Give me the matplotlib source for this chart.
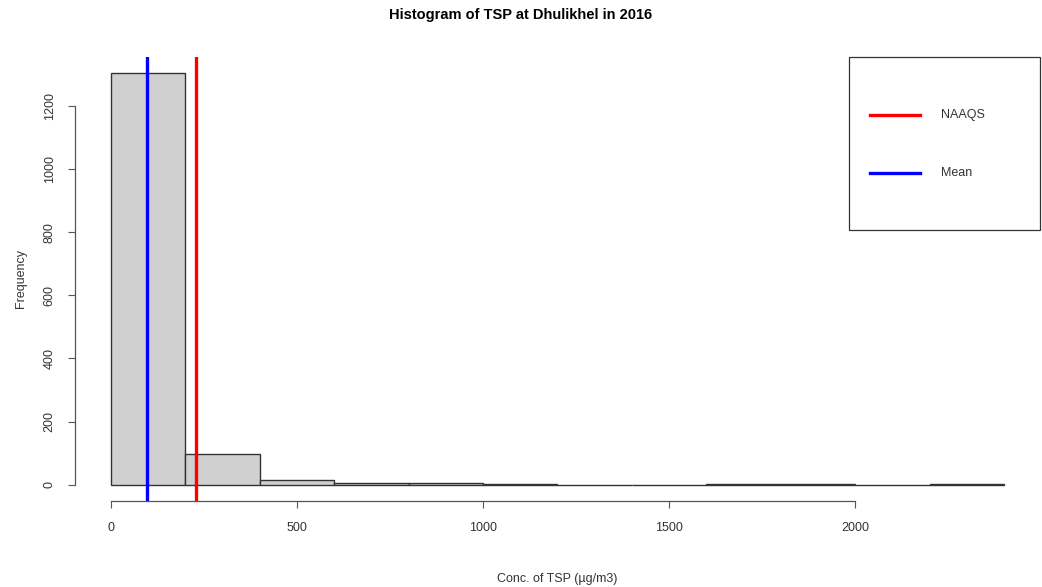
import numpy as np
import matplotlib.pyplot as plt
from matplotlib.patches import Rectangle
from matplotlib.lines import Line2D

plt.rcParams['font.family'] = ['Liberation Sans', 'DejaVu Sans']

# histogram bins (µg/m3) and counts
bin_edges = [0, 200, 400, 600, 800, 1000, 1200, 1400, 1600, 1800, 2000, 2200, 2400]
counts = [1304, 98, 16, 5, 5, 1, 0, 0, 1, 1, 0, 1]
naaqs = 230
mean_tsp = 97

xticks = [0, 500, 1000, 1500, 2000]
yticks = [0, 200, 400, 600, 800, 1000, 1200]
legend_labels = ['NAAQS', 'Mean']
legend_colors = ['#ff0000', '#0000ff']

W, H = 1042, 587
fig = plt.figure(figsize=(W / 100, H / 100), dpi=100)
ax = fig.add_axes([0.072, 0.1465, 0.926, 0.7565])

lefts = np.array(bin_edges[:-1])
widths = np.diff(bin_edges)
ax.bar(lefts, counts, width=widths, align='edge', color='#d0d0d0',
       edgecolor='#333333', linewidth=1.0)

ax.axvline(naaqs, color=legend_colors[0], lw=2.4)
ax.axvline(mean_tsp, color=legend_colors[1], lw=2.4)

ax.set_xlim(-96, 2496)
ax.set_ylim(-52, 1356)

for s in ['top', 'right']:
    ax.spines[s].set_visible(False)
ax.spines['bottom'].set_bounds(0, 2000)
ax.spines['left'].set_bounds(0, 1200)
for s in ['bottom', 'left']:
    ax.spines[s].set_color('#555555')
    ax.spines[s].set_linewidth(0.9)

ax.set_xticks(xticks)
ax.set_yticks(yticks)
ax.tick_params(axis='both', length=5, color='#555555', labelsize=9,
               labelcolor='#333333', direction='out')
ax.tick_params(axis='x', pad=10)
ax.tick_params(axis='y', pad=9)
for lbl in ax.get_yticklabels():
    lbl.set_rotation(90)
    lbl.set_va('center')

ax.set_xlabel('Conc. of TSP (µg/m3)', fontsize=9, color='#333333', labelpad=28)
ax.set_ylabel('Frequency', fontsize=9, color='#333333', labelpad=12)
fig.text(0.5, 1 - 15 / H, 'Histogram of TSP at Dhulikhel in 2016', ha='center',
         va='center', fontsize=10.5, fontweight='bold')

# legend box drawn by hand (pixel layout of the R legend)
fig.patches.append(Rectangle((849 / W, 1 - 230 / H), 191 / W, 173 / H,
                             transform=fig.transFigure, fill=False,
                             edgecolor='#333333', linewidth=0.9))
for i, (lab, col) in enumerate(zip(legend_labels, legend_colors)):
    y = 1 - (115 + 58 * i) / H
    fig.lines.append(Line2D([870 / W, 920 / W], [y, y], transform=fig.transFigure,
                            color=col, lw=2.4))
    fig.text(941 / W, y, lab, fontsize=9, color='#333333', va='center')

fig.savefig('out.png', dpi=100)
